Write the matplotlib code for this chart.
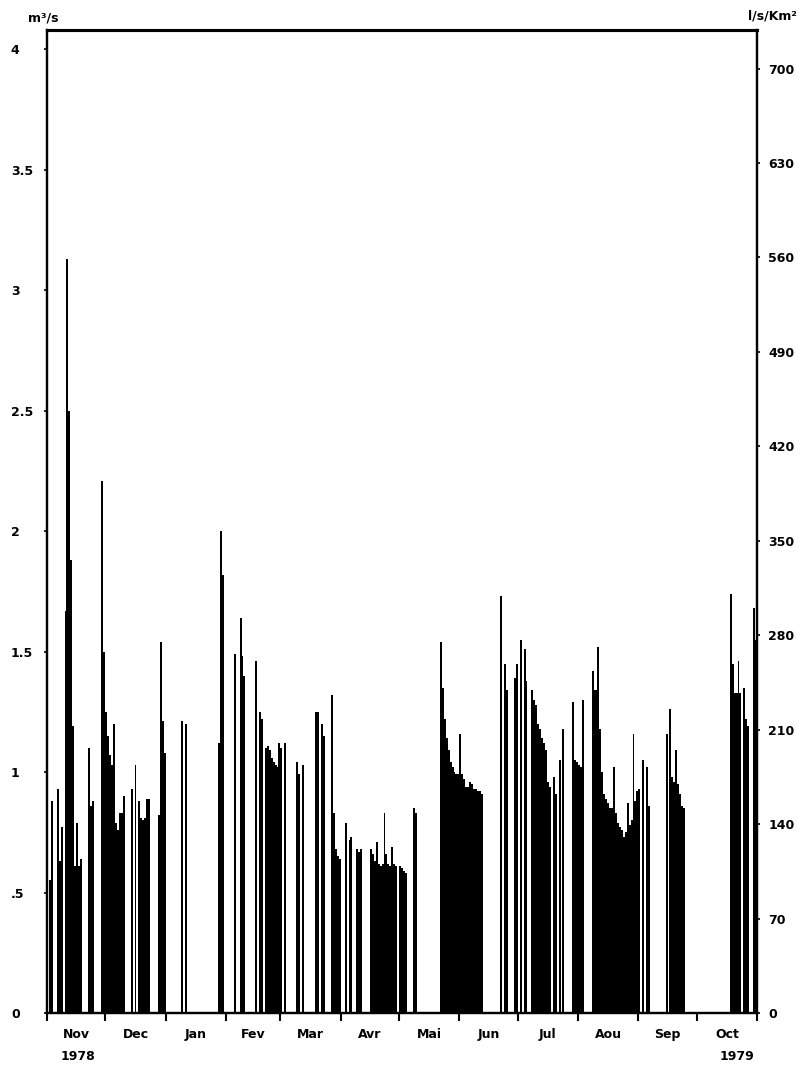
import numpy as np
import matplotlib.pyplot as plt

# daily discharge (m3/s), Nov 1978 - Oct 1979, None = no record
nov = [None, 0.55, 0.88, None, None, 0.93, 0.63, 0.77, None, 1.67,
       3.13, 2.50, 1.88, 1.19, 0.61, 0.79, 0.61, 0.64, None, None,
       None, 1.10, 0.86, 0.88, None, None, None, None, 2.21, 1.50]
dec = [1.25, 1.15, 1.07, 1.03, 1.20, 0.79, 0.76, 0.83, 0.83, 0.90,
       None, None, None, 0.93, None, 1.03, None, 0.88, 0.81, 0.80,
       0.81, 0.89, 0.89, None, None, None, None, 0.82, 1.54, 1.21,
       1.08]
jan = [None] * 8 + [1.21, None, 1.20] + [None] * 16 + [1.12, 2.00, 1.82, None]
fev = [None, None, None, None, 1.49, None, None, 1.64, 1.48, 1.40,
       None, None, None, None, None, 1.46, None, 1.25, 1.22, None,
       1.10, 1.11, 1.09, 1.06, 1.04, 1.03, 1.02, 1.12]
mar = [1.10, None, 1.12, None, None, None, None, None, 1.04, 0.99,
       None, 1.03, None, None, None, None, None, None, 1.25, 1.25,
       None, 1.20, 1.15, None, None, None, 1.32, 0.83, 0.68, 0.65,
       0.64]
avr = [None, None, 0.79, None, 0.72, 0.73, None, None, 0.68, 0.67,
       0.68, None, None, None, None, 0.68, 0.66, 0.63, 0.71, 0.62,
       0.61, 0.62, 0.83, 0.66, 0.62, 0.61, 0.69, 0.62, 0.61, None]
mai = [0.61, 0.60, 0.59, 0.58, None, None, None, 0.85, 0.83] + [None] * 12 + \
      [1.54, 1.35, 1.22, 1.14, 1.09, 1.04, 1.02, 1.00, 0.99, 0.99]
jun = [1.16, 0.99, 0.97, 0.94, 0.94, 0.96, 0.95, 0.93, 0.93, 0.92,
       0.92, 0.91] + [None] * 9 + [1.73, None, 1.45, 1.34, None, None, None, 1.39, 1.45]
jul = [None, 1.55, None, 1.51, 1.38, None, None, 1.34, 1.30, 1.28,
       1.20, 1.18, 1.14, 1.12, 1.09, 0.96, 0.94, None, 0.98, 0.91,
       None, 1.05, None, 1.18, None, None, None, None, 1.29, 1.05,
       1.04]
aou = [1.03, 1.02, 1.30, None, None, None, None, 1.42, 1.34, 1.34,
       1.52, 1.18, 1.00, 0.91, 0.89, 0.87, 0.85, 0.85, 1.02, 0.83,
       0.79, 0.77, 0.76, 0.73, 0.75, 0.87, 0.78, 0.80, 1.16, 0.88,
       0.92]
sep = [0.93, None, 1.05, None, 1.02, 0.86] + [None] * 8 + \
      [1.16, None, 1.26, 0.98, 0.96, 1.09, 0.95, 0.91, 0.86, 0.85] + [None] * 6
oct_ = [None] * 17 + [1.74, 1.45, 1.33, 1.33, 1.46, 1.33, None, 1.35, 1.22,
                      1.19, None, None, 1.68, 1.55]

months = ['Nov', 'Dec', 'Jan', 'Fev', 'Mar', 'Avr', 'Mai', 'Jun', 'Jul', 'Aou', 'Sep', 'Oct']
series = [nov, dec, jan, fev, mar, avr, mai, jun, jul, aou, sep, oct_]
area_km2 = 5.6  # l/s/km2 = 1000 * Q / area

q = np.array([np.nan if v is None else v for m in series for v in m], dtype=float)
days = np.arange(len(q))
ok = ~np.isnan(q)
mlen = np.array([len(m) for m in series])
bounds = np.concatenate([[0], np.cumsum(mlen)])
centers = bounds[:-1] + mlen / 2.0

plt.rcParams['font.family'] = 'DejaVu Sans'
plt.rcParams['font.weight'] = 'bold'
plt.rcParams['font.size'] = 9

fig = plt.figure(figsize=(7.99, 10.67), dpi=100)
ax = fig.add_axes([47 / 799, 54 / 1067, 710 / 799, 983 / 1067])
ax.bar(days[ok], q[ok], width=1.0, align='edge', color='black',
       linewidth=0, antialiased=False)

ymax = 4.08
ax.set_xlim(0, len(q))
ax.set_ylim(0, ymax)
for s in ax.spines.values():
    s.set_linewidth(1.6)
ax.spines['top'].set_linewidth(2.2)

ax.set_yticks(np.arange(0, 4.01, 0.5))
ax.set_yticklabels(['0', '.5', '1', '1.5', '2', '2.5', '3', '3.5', '4'])
ax.tick_params(axis='y', direction='out', length=2.5, width=1.2, pad=23.5)
for lbl in ax.get_yticklabels():
    lbl.set_horizontalalignment('left')

ax.set_xticks(bounds)
ax.set_xticklabels([])
ax.set_xticks(centers, minor=True)
ax.set_xticklabels(months, minor=True)
ax.tick_params(axis='x', which='major', direction='out', length=6, width=1.5)
ax.tick_params(axis='x', which='minor', length=0, pad=11)

ax2 = ax.twinx()
ax2.set_ylim(0, ymax * 1000 / area_km2)
ax2.set_yticks(np.arange(0, 701, 70))
ax2.tick_params(axis='y', direction='out', length=2.5, width=1.2, pad=5.5)
for s in ax2.spines.values():
    s.set_linewidth(1.6)
ax2.spines['top'].set_linewidth(2.2)

fig.text(28 / 799, 1 - 18 / 1067, 'm³/s', ha='left', va='center')
fig.text(797 / 799, 1 - 16 / 1067, 'l/s/Km²', ha='right', va='center')
fig.text(78 / 799, 1 - 1056 / 1067, '1978', ha='center', va='center')
fig.text(737 / 799, 1 - 1056 / 1067, '1979', ha='center', va='center')

fig.savefig('out.png', dpi=100)
